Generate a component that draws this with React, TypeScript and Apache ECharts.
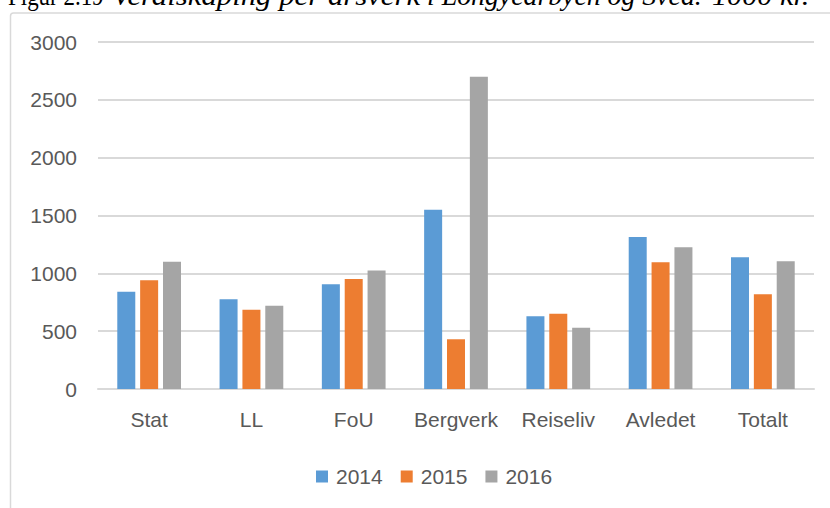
import React, { useEffect, useRef } from "react";
import * as echarts from "echarts";

const categories = ["Stat", "LL", "FoU", "Bergverk", "Reiseliv", "Avledet", "Totalt"];
const seriesNames = ["2014", "2015", "2016"];
const values2014 = [840, 775, 905, 1550, 630, 1315, 1140];
const values2015 = [940, 685, 950, 430, 650, 1095, 820];
const values2016 = [1100, 720, 1025, 2700, 530, 1225, 1105];
const colors = ["#5b9bd5", "#ed7d31", "#a5a5a5"];
const titleTexts = ["Figur 2.19", "–", "Verdiskaping per årsverk", "i Longyearbyen og Svea.", "1000 kr."];

const TITLE_FONT = "'Liberation Serif', 'Times New Roman', serif";
const TITLE_SIZE = 27;
const titleLayout = [
  { italic: false, x: 8, scaleX: 0.85 },
  { italic: false, x: 96, scaleX: 1 },
  { italic: true, x: 112, scaleX: 1.14 },
  { italic: true, x: 427, scaleX: 1.03 },
  { italic: true, x: 712, scaleX: 1.12 },
];

export default function App() {
  const ref = useRef<HTMLDivElement>(null);
  useEffect(() => {
    if (!ref.current) return;
    const chart = echarts.init(ref.current, null, { renderer: "svg" });
    const labelFont = "'Liberation Sans', Arial, sans-serif";
    const allValues = [values2014, values2015, values2016];
    chart.setOption({
      animation: false,
      backgroundColor: "#ffffff",
      grid: { left: 98, right: 16, top: 42, bottom: 119, containLabel: false },
      legend: {
        data: seriesNames,
        left: 311,
        top: 461,
        itemWidth: 12,
        itemHeight: 12,
        itemGap: 18,
        icon: "rect",
        textStyle: { fontFamily: labelFont, fontSize: 21, color: "#595959", padding: [0, 0, 0, 3] },
      },
      xAxis: {
        type: "category",
        data: categories,
        axisLine: { show: true, lineStyle: { color: "#d9d9d9", width: 2 } },
        axisTick: { show: false },
        axisLabel: { interval: 0, fontFamily: labelFont, fontSize: 21, color: "#595959", margin: 20 },
      },
      yAxis: {
        type: "value",
        min: 0,
        max: 3000,
        interval: 500,
        axisLine: { show: false },
        axisTick: { show: false },
        axisLabel: {
          fontFamily: labelFont,
          fontSize: 21,
          color: "#595959",
          margin: 21,
          formatter: (v: number) => String(v),
        },
        splitLine: { lineStyle: { color: "#d9d9d9", width: 2 } },
      },
      series: seriesNames.map((name, i) => ({
        name,
        type: "bar",
        data: allValues[i],
        barWidth: 18,
        barGap: "27%",
        itemStyle: { color: colors[i] },
      })),
      graphic: [
        {
          type: "rect",
          shape: { x: 10.5, y: 13, width: 900, height: 600, r: 3 },
          style: { fill: "none", stroke: "#d9d9d9", lineWidth: 1.5 },
          silent: true,
        },
        ...titleTexts.map((t, i) => ({
          type: "text",
          x: titleLayout[i].x,
          y: -4,
          scaleX: titleLayout[i].scaleX,
          scaleY: 1,
          style: {
            text: t,
            fontFamily: TITLE_FONT,
            fontSize: TITLE_SIZE,
            fontStyle: titleLayout[i].italic ? "italic" : "normal",
            fill: "#000000",
            verticalAlign: "middle",
            align: "left",
          },
        })),
      ],
    });
    return () => chart.dispose();
  }, []);
  return (
    <div
      ref={ref}
      style={{ position: "fixed", left: 0, top: 0, width: 830, height: 508 }}
    />
  );
}
